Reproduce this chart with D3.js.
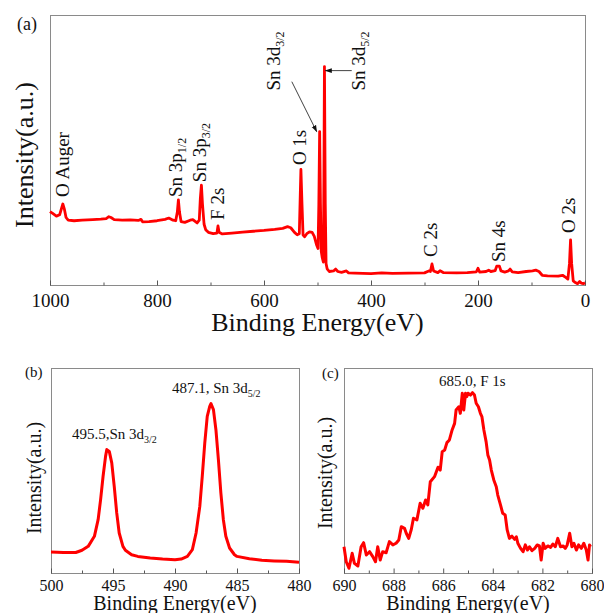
<!DOCTYPE html>
<html lang="en">
<head>
<meta charset="utf-8">
<title>XPS spectra</title>
<script src="https://cdn.jsdelivr.net/npm/d3@7"></script>
<style>
  body { margin: 0; background: #fff; }
  svg text { font-family: "Liberation Serif", "Times New Roman", serif; fill: #111; }
  .frame { fill: none; stroke: #8a8a8a; stroke-width: 1; }
  .axis path { stroke: none; }
  .axis line { stroke: #555; }
</style>
</head>
<body>
<div id="chart"></div>
<script>
// survey spectrum (a)
var surveyEV = [1000,995,988,982,979,976,973,970,966,955,940,920,905,895,890,886,880,865,850,835,830,827,815,800,785,778,770,765,762,760,758,755,748,738,733,725,721,719,717,715,712,709,704,695,688,686,684,678,660,640,620,600,580,565,556,550,543,538,534,532,531,529,527,524,520,515,510,506,502,499,497.5,496,494.5,493,491,489,488,487,485.5,484,482,478,470,466,462,455,446,442,430,400,380,360,330,300,292,289,286,283,275,271,265,240,220,203,200,197,185,180,176,168,165,160,157,150,143,140,136,125,110,98,92,86,80,70,50,42,36,32,29,27,25,22,18,14,10,7,3,0]
var surveyI  = [27.2,26.5,25.5,26.0,28.0,30.0,28.0,25.0,24.0,23.8,24.0,24.2,24.4,24.6,25.3,25.0,24.2,24.0,24.1,23.9,24.3,23.4,23.5,23.8,24.3,24.8,24.0,23.8,27.0,31.5,27.0,23.5,23.2,24.0,24.2,23.0,24.0,32.0,37.0,30.0,22.5,20.5,19.5,19.0,19.2,21.9,19.5,18.9,19.2,19.6,19.9,20.2,20.6,21.0,21.6,21.2,19.5,18.6,19.0,35.0,42.8,30.0,18.5,17.9,19.0,19.7,19.5,18.0,15.0,13.5,30.0,56.8,30.0,12.5,10.0,8.5,40.0,80.9,30.0,8.0,6.0,5.0,5.2,5.9,5.0,4.7,5.2,4.5,4.4,4.2,4.5,4.3,4.4,4.5,5.2,5.0,7.8,5.2,4.6,5.3,4.6,4.5,4.6,4.9,6.2,4.8,5.0,5.5,5.0,5.3,7.0,7.0,5.2,4.8,5.2,5.9,4.9,4.6,5.0,5.2,5.5,5.0,3.6,3.4,3.3,3.6,2.8,2.2,8.0,16.7,8.0,1.5,0.9,0.5,1.3,0.7,0.5,0.8]

// Sn 3d high resolution (b)
var snEV = [500,499,498,497.5,497,496.5,496.2,496,495.8,495.6,495.5,495.3,495.1,494.9,494.7,494.5,494.2,494,493.5,493,492,491,490,489.5,489,488.6,488.3,488,487.8,487.6,487.4,487.2,487.1,486.9,486.7,486.5,486.3,486.1,485.9,485.6,485.2,485,484,483,482,481,480]
var snI  = [10.2,10.0,10.0,11.1,13.0,17.9,26.0,35.8,47.2,56.9,60.2,59.3,53.7,42.3,29.3,19.5,13.0,11.1,8.9,8.1,7.3,6.8,6.5,6.8,8.1,11.4,19.5,32.5,47.2,63.4,76.4,81.3,82.6,79.7,69.9,55.3,39.0,26.0,17.9,12.2,8.9,8.1,7.0,6.2,5.9,5.7,5.2]

// F 1s high resolution (c)
var fEV = [690,689.91,689.8,689.67,689.58,689.44,689.31,689.21,689.1,688.97,688.84,688.73,688.64,688.54,688.44,688.3,688.17,688.03,687.9,687.79,687.69,687.56,687.49,687.39,687.29,687.2,687.06,686.93,686.82,686.71,686.62,686.52,686.35,686.21,686.12,686.04,685.94,685.85,685.75,685.64,685.54,685.48,685.37,685.31,685.23,685.17,685.1,685.05,685.0,684.9,684.82,684.74,684.67,684.58,684.5,684.44,684.36,684.27,684.2,684.13,684.06,683.96,683.86,683.8,683.69,683.6,683.5,683.42,683.33,683.23,683.12,683.05,682.99,682.88,682.78,682.69,682.6,682.52,682.42,682.31,682.21,682.12,682.05,681.97,681.89,681.78,681.67,681.58,681.48,681.38,681.27,681.16,681.08,681.0,680.9,680.81,680.73,680.63,680.54,680.43,680.33,680.23,680.16,680.1,680.06]
var fI  = [12.8,5.5,2.3,9.6,4.7,3.4,12.8,14.8,8.8,10.4,8.0,5.5,12.8,6.3,10.4,9.9,15.3,13.7,14.5,16.1,22.6,21.8,19.4,16.9,21.0,26.7,25.9,34.0,31.6,35.6,33.2,44.5,47.0,51.6,50.2,59.2,60.0,63.6,64.9,69.8,73.0,79.5,81.1,77.9,87.7,79.5,87.7,86.0,87.7,86.8,88.0,86.8,82.8,81.1,77.9,76.3,69.8,64.1,57.6,55.1,50.2,45.4,42.1,38.0,33.2,29.1,28.3,21.0,16.9,18.0,16.4,17.7,14.5,12.0,10.4,13.7,11.2,12.8,10.9,12.0,13.7,13.2,6.3,14.5,12.0,13.2,12.5,14.1,12.8,16.9,12.8,13.2,12.0,13.7,19.4,12.8,14.5,11.2,13.7,12.0,14.5,11.2,6.3,13.7,12.8]

// peak labels for (a): [text, subscript, eV, intensity]
var surveyLabels = [
  ["O Auger", "", 964.5, 32.6],
  ["Sn 3p", "1/2", 753.3, 32.6],
  ["Sn 3p", "3/2", 709.3, 38.1],
  ["F 2s", "", 674.8, 24.1],
  ["O 1s", "", 521.5, 44.4],
  ["Sn 3d", "3/2", 571, 72.0],
  ["Sn 3d", "5/2", 410.3, 72.0],
  ["C 2s", "", 276.6, 10.4],
  ["Sn 4s", "", 149.5, 8.5],
  ["O 2s", "", 18.7, 19.3]
]
// arrows [fromEV, fromI, toEV, toI]
var surveyArrows = [
  [548, 75.3, 501.5, 56.8],
  [436, 79.4, 485, 79.4]
]

var aMajor = [1000,800,600,400,200,0]
var aMinor = [900,700,500,300,100]
var bMajor = [500,495,490,485,480]
var bMinor = [497.5,492.5,487.5,482.5]
var cMajor = [690,688,686,684,682,680]
var cMinor = [689,687,685,683,681]

var W = 604, H = 613
var svg = d3.select("#chart").append("svg").attr("width", W).attr("height", H)

svg.append("defs").append("marker")
  .attr("id", "arr").attr("viewBox", "0 0 10 10").attr("refX", 9).attr("refY", 5)
  .attr("markerWidth", 7).attr("markerHeight", 7).attr("orient", "auto-start-reverse")
  .attr("markerUnits", "userSpaceOnUse")
  .append("path").attr("d", "M0,1.5 L10,5 L0,8.5 Z").attr("fill", "#111")

function panel(opt){
  var x = d3.scaleLinear().domain(opt.xdom).range([opt.l, opt.r])
  var y = d3.scaleLinear().domain([0, 100]).range([opt.b, opt.t])
  var g = svg.append("g")

  g.append("rect").attr("class", "frame")
    .attr("x", opt.l + 0.5).attr("y", opt.t + 0.5)
    .attr("width", opt.r - opt.l).attr("height", opt.b - opt.t)

  g.append("g").attr("class", "axis")
    .attr("transform", "translate(0," + (opt.b + 0.5) + ")")
    .call(d3.axisBottom(x).tickValues(opt.major).tickSize(-5).tickPadding(opt.pad).tickFormat(d3.format("d")))
    .selectAll("text").attr("font-size", opt.tick + "px").attr("fill", "#111")

  g.append("g").attr("class", "axis")
    .attr("transform", "translate(0," + (opt.b + 0.5) + ")")
    .call(d3.axisBottom(x).tickValues(opt.minor).tickSize(-3).tickFormat(""))

  var line = d3.line().x(function(d){ return x(d[0]) }).y(function(d){ return y(d[1]) })
  var pts = opt.ev.map(function(e, i){ return [e, opt.val[i]] })
  g.append("path").datum(pts).attr("d", line)
    .attr("fill", "none").attr("stroke", "#ff0000").attr("stroke-width", opt.sw)
    .attr("stroke-linejoin", "round")

  g.append("text").text("Binding Energy(eV)")
    .attr("x", (opt.l + opt.r) / 2).attr("y", opt.xtY)
    .attr("text-anchor", "middle").attr("font-size", opt.title + "px")

  g.append("text").text("Intensity(a.u.)")
    .attr("transform", "translate(" + opt.ytX + "," + opt.ytY + ") rotate(-90)")
    .attr("text-anchor", "middle").attr("font-size", opt.title + "px")

  g.append("text").text(opt.tag)
    .attr("x", opt.tagX).attr("y", opt.tagY).attr("font-size", opt.tagSize + "px")

  return {x: x, y: y, g: g}
}

var A = panel({xdom: [1000, 0], l: 50, r: 585, t: 15, b: 285, major: aMajor, minor: aMinor,
  pad: 8, tick: 19, ev: surveyEV, val: surveyI, sw: 2.8, xtY: 331, title: 26, ytX: 33, ytY: 155,
  tag: "(a)", tagX: 17, tagY: 30, tagSize: 18})

surveyLabels.forEach(function(d){
  var t = A.g.append("text")
    .attr("transform", "translate(" + A.x(d[2]) + "," + A.y(d[3]) + ") rotate(-90)")
    .attr("font-size", "19px")
  t.append("tspan").text(d[0])
  if(d[1]) t.append("tspan").text(d[1]).attr("font-size", "12px").attr("dy", "4")
})

surveyArrows.forEach(function(d){
  A.g.append("line")
    .attr("x1", A.x(d[0])).attr("y1", A.y(d[1]))
    .attr("x2", A.x(d[2])).attr("y2", A.y(d[3]))
    .attr("stroke", "#111").attr("stroke-width", 0.8).attr("marker-end", "url(#arr)")
})

var B = panel({xdom: [500, 480], l: 51, r: 299, t: 368, b: 573, major: bMajor, minor: bMinor,
  pad: 6, tick: 16, ev: snEV, val: snI, sw: 3, xtY: 610, title: 20, ytX: 41, ytY: 478,
  tag: "(b)", tagX: 25, tagY: 377, tagSize: 15})

var bNotes = [["487.1, Sn 3d", "5/2", 172, 393], ["495.5,Sn 3d", "3/2", 72, 439]]
bNotes.forEach(function(d){
  var t = B.g.append("text").attr("x", d[2]).attr("y", d[3]).attr("font-size", "15px")
  t.append("tspan").text(d[0])
  t.append("tspan").text(d[1]).attr("font-size", "10px").attr("dy", "4")
})

var C = panel({xdom: [690, 680], l: 344, r: 592, t: 368, b: 573, major: cMajor, minor: cMinor,
  pad: 6, tick: 16, ev: fEV, val: fI, sw: 3, xtY: 610, title: 20, ytX: 332, ytY: 473,
  tag: "(c)", tagX: 322, tagY: 378, tagSize: 15})

C.g.append("text").text("685.0, F 1s").attr("x", 439).attr("y", 386).attr("font-size", "15px")
</script>
</body>
</html>
